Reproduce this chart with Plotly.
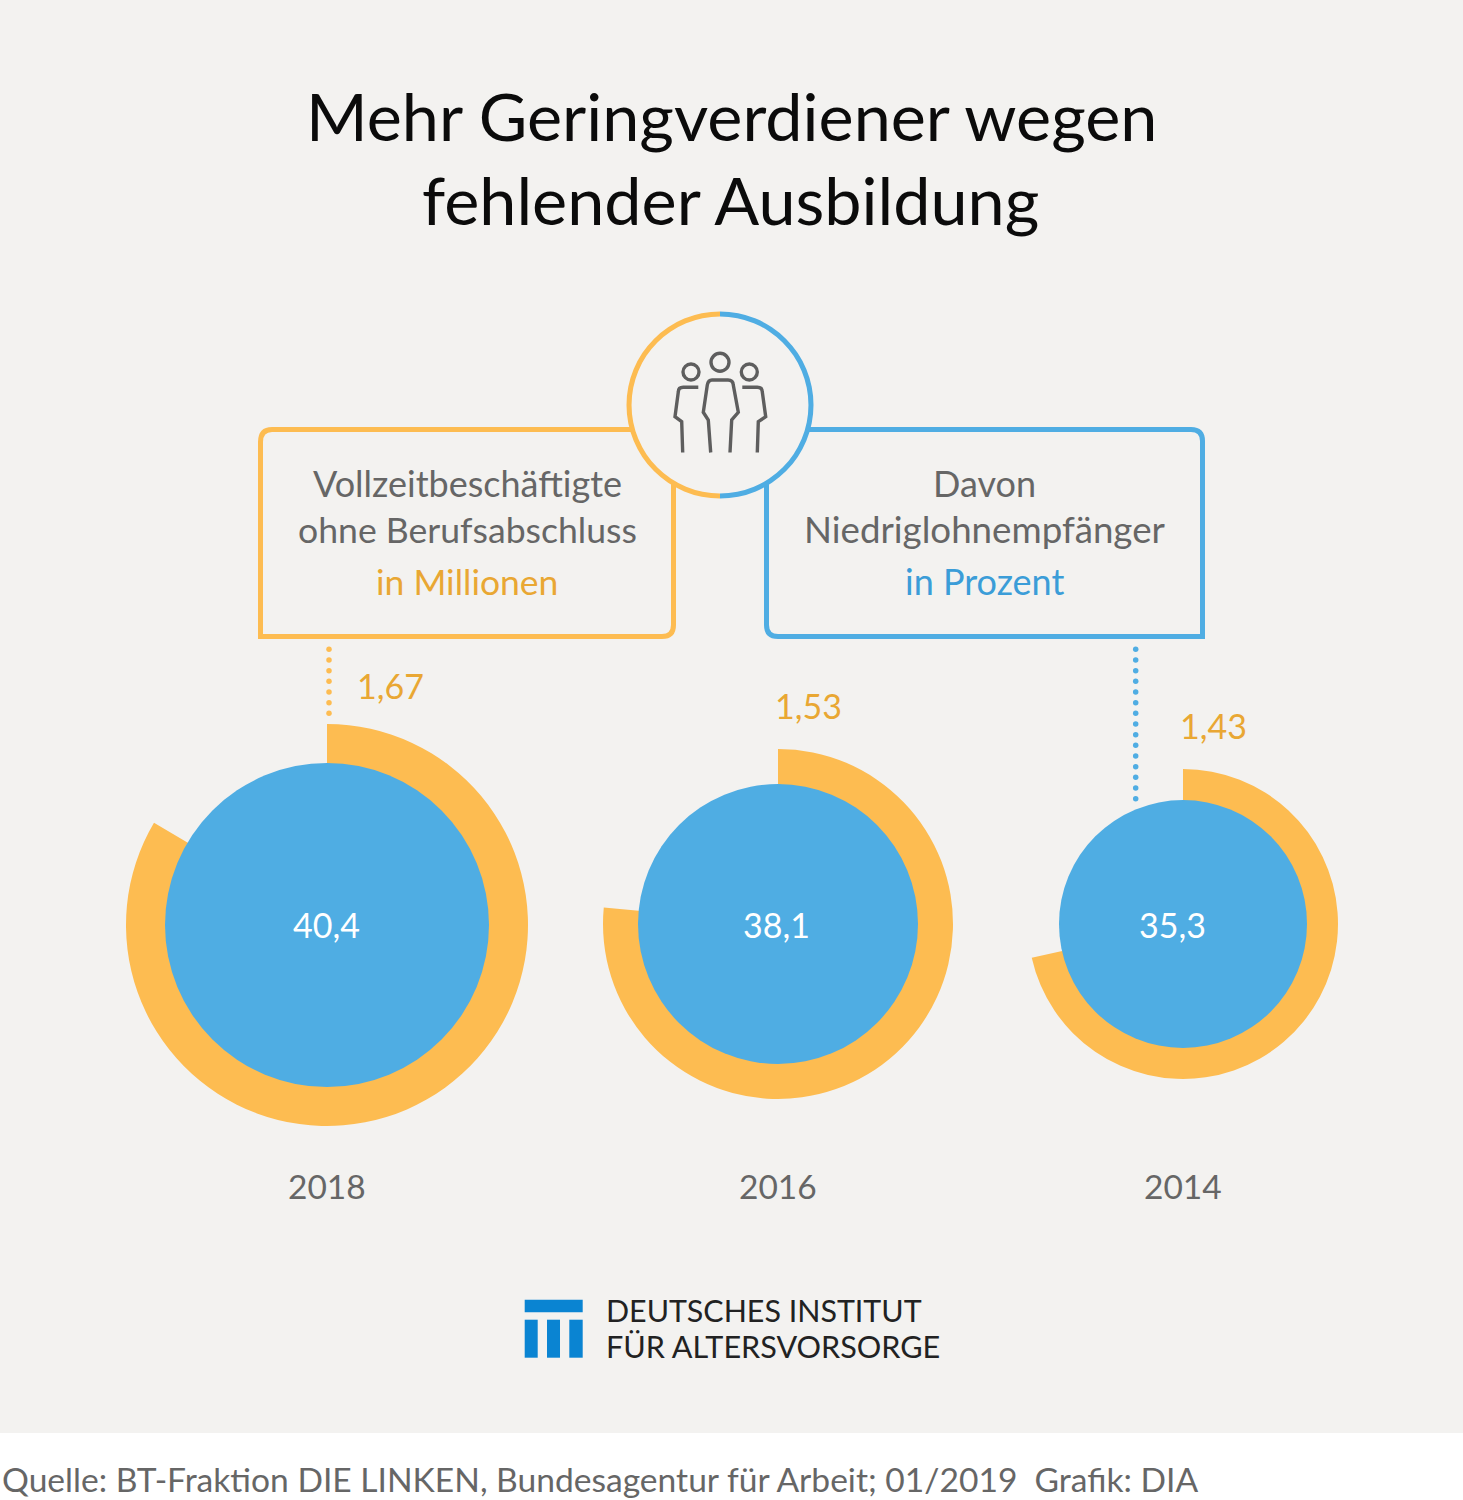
import numpy as np
import plotly.graph_objects as go

W, H = 1463, 1500
FONT = "Lato"

# data
years = ["2018", "2016", "2014"]
beschaeftigte_mio = [1.67, 1.53, 1.43]
niedriglohn_pct = [40.4, 38.1, 35.3]
ring_full_scale = 2.0

title_lines = ["Mehr Geringverdiener wegen", "fehlender Ausbildung"]
left_box_lines = ["Vollzeitbeschäftigte", "ohne Berufsabschluss"]
left_box_unit = "in Millionen"
right_box_lines = ["Davon", "Niedriglohnempfänger"]
right_box_unit = "in Prozent"
logo_lines = ["DEUTSCHES INSTITUT", "FÜR ALTERSVORSORGE"]
source_text = "Quelle: BT-Fraktion DIE LINKEN, Bundesagentur für Arbeit; 01/2019\u00a0 Grafik: DIA"

# geometry of the three rings, in pixels
center_x = [327, 778, 1183]
center_y = [925, 924, 924]
outer_r = [201, 175, 155]
inner_r = [162, 140, 124]
ring_label_x = [390, 808, 1213]
ring_label_y = [685, 705, 725]
pct_label_x = [326, 776.5, 1172.5]

YELLOW = "#FDBC51"
BLUE = "#4FADE3"
YELLOW_TEXT = "#E9A733"
BLUE_TEXT = "#3B9DD8"
GREY = "#5E5E5E"
GREY_TEXT = "#666666"
BG = "#F3F2F0"
LOGO_BLUE = "#0A84D2"


def pie_domain(cx, cy, r):
    return dict(x=[(cx - r) / W, (cx + r) / W], y=[1 - (cy + r) / H, 1 - (cy - r) / H])


def label(text, x, y, size, color, anchor="center", font=FONT):
    return dict(text=text, x=x, y=y, xref="x", yref="y", xanchor=anchor, yanchor="middle",
                showarrow=False, font=dict(family=font, size=size, color=color))


def rect(x0, y0, x1, y1, color):
    return dict(type="rect", xref="x", yref="y", x0=x0, y0=y0, x1=x1, y1=y1,
                fillcolor=color, line=dict(width=0), layer="below")


def stroke(path, color, width, layer="below"):
    return dict(type="path", xref="x", yref="y", path=path, line=dict(color=color, width=width), layer=layer)


def pie(values, colors, domain, hole=0):
    return go.Pie(values=values, marker=dict(colors=colors, line=dict(width=0)), domain=domain, hole=hole,
                  sort=False, direction="clockwise", rotation=0, textinfo="none", showlegend=False,
                  hoverinfo="skip")


fig = go.Figure()

# dotted leaders from the boxes to the rings
fig.add_trace(go.Scatter(x=[329] * 7, y=649.3 + 10.67 * np.arange(7), mode="markers",
                         marker=dict(color=YELLOW, size=5.5), showlegend=False, hoverinfo="skip"))
fig.add_trace(go.Scatter(x=[1135.7] * 15, y=649.3 + 10.67 * np.arange(15), mode="markers",
                         marker=dict(color=BLUE, size=5.5), showlegend=False, hoverinfo="skip"))

for i in range(len(years)):
    dom = pie_domain(center_x[i], center_y[i], outer_r[i])
    fig.add_trace(pie([beschaeftigte_mio[i], ring_full_scale - beschaeftigte_mio[i]],
                      [YELLOW, "rgba(0,0,0,0)"], dom, hole=inner_r[i] / outer_r[i] * 0.98))
    fig.add_trace(pie([niedriglohn_pct[i]], [BLUE], pie_domain(center_x[i], center_y[i], inner_r[i])))

# round badge on top of the boxes
fig.add_trace(pie([1], [BG], pie_domain(720, 405, 92)))
fig.add_trace(pie([1, 1], [BLUE, YELLOW], pie_domain(720, 405, 93.5), hole=88.5 / 93.5))

shapes = [
    rect(0, 1433, W, H, "white"),
    # boxes, each with two rounded corners
    stroke("M 272,429.5 L 700,429.5 M 260.5,442 Q 260.5,429.5 272,429.5 M 260.5,442 L 260.5,636.5 L 662,636.5 "
           "Q 673.5,636.5 673.5,625 L 673.5,470", YELLOW, 5),
    stroke("M 740,429.5 L 1191,429.5 Q 1202.5,429.5 1202.5,441 L 1202.5,636.5 L 778,636.5 "
           "Q 766.5,636.5 766.5,625 L 766.5,470", BLUE, 5),
    # logo
    rect(524.7, 1299.7, 582.7, 1312.3, LOGO_BLUE),
    rect(524.7, 1319.7, 537.7, 1357.7, LOGO_BLUE),
    rect(547, 1319.7, 560, 1357.7, LOGO_BLUE),
    rect(569.3, 1319.7, 582.7, 1357.7, LOGO_BLUE),
    # people icon
    stroke("M 710.7,452.5 L 708.3,420 L 703.3,412.3 L 707.3,385 Q 708.3,380 712,380 L 728,380 "
           "Q 733,380 733.3,385 L 738.3,412.3 L 731.7,420 L 730,452.5", GREY, 3.4, "above"),
    stroke("M 698.3,387.3 L 683.3,387.3 Q 678.3,387.3 678.3,392 L 675,416.7 L 681.7,421.7 L 682.7,452.5",
           GREY, 3.4, "above"),
    stroke("M 742.3,387.3 L 757.3,387.3 Q 762.3,387.3 762.3,392 L 765.7,416.7 L 758.3,421.7 L 757.3,452.5",
           GREY, 3.4, "above"),
]
for hx, hy, hr in [(720, 362.3, 9), (691, 372, 8), (749.3, 372, 8)]:
    shapes.append(dict(type="circle", xref="x", yref="y", x0=hx - hr, x1=hx + hr, y0=hy - hr, y1=hy + hr,
                       line=dict(color=GREY, width=3.4), layer="above"))

annotations = [
    label(title_lines[0], 731, 115, 66.5, "#0B0B0B"),
    label(title_lines[1], 730.5, 199, 66.5, "#0B0B0B"),
    label(left_box_lines[0], 467, 483, 36, GREY_TEXT),
    label(left_box_lines[1], 467.5, 529, 35.6, GREY_TEXT),
    label(left_box_unit, 467, 581, 35.5, YELLOW_TEXT),
    label(right_box_lines[0], 984, 483, 36, GREY_TEXT),
    label(right_box_lines[1], 985, 529, 36.7, GREY_TEXT),
    label(right_box_unit, 984, 581, 36, BLUE_TEXT),
    label(logo_lines[0], 604, 1310, 30.4, "#222222", "left"),
    label(logo_lines[1], 604, 1346, 30.6, "#222222", "left"),
    label(source_text, 0, 1479, 33.6, GREY_TEXT, "left"),
]
for i, year in enumerate(years):
    annotations.append(label(f"{beschaeftigte_mio[i]:.2f}".replace(".", ","), ring_label_x[i], ring_label_y[i], 34, YELLOW_TEXT))
    annotations.append(label(f"{niedriglohn_pct[i]:.1f}".replace(".", ","), pct_label_x[i], 924, 34, "white"))
    annotations.append(label(year, center_x[i], 1186, 33.5, GREY_TEXT))

fig.update_layout(
    width=W, height=H,
    margin=dict(l=0, r=0, t=0, b=0),
    paper_bgcolor=BG, plot_bgcolor="rgba(0,0,0,0)",
    xaxis=dict(range=[0, W], visible=False, fixedrange=True),
    yaxis=dict(range=[H, 0], visible=False, fixedrange=True),
    shapes=shapes, annotations=annotations,
)

fig.write_html("out.html", config=dict(displayModeBar=False), post_script="document.body.style.margin = '0';")
